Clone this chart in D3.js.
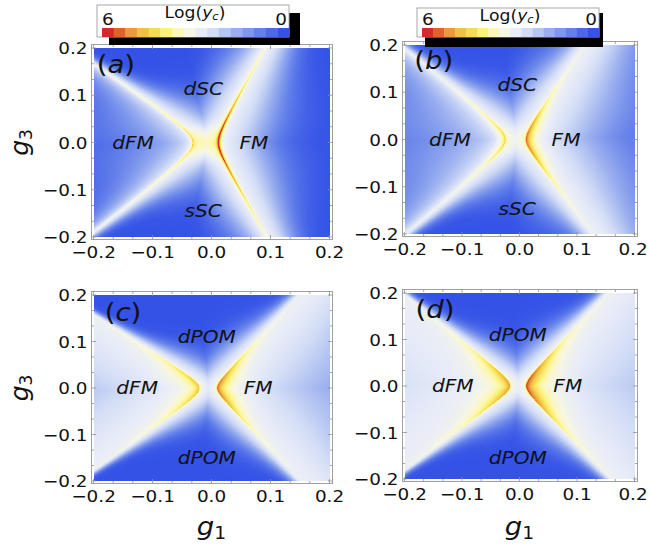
<!DOCTYPE html>
<html>
<head>
<meta charset="utf-8">
<script src="https://cdn.jsdelivr.net/npm/d3@7"></script>
<style>
body { margin: 0; background: #fff; }
svg { display: block; }
text { font-family: "DejaVu Sans", sans-serif; fill: #111; }
</style>
</head>
<body>
<svg id="chart" width="649" height="547"></svg>
<script>
// panels and labels
var panelTags = ["a", "b", "c", "d"];
var topPhase = ["dSC", "dSC", "dPOM", "dPOM"];
var bottomPhase = ["sSC", "sSC", "dPOM", "dPOM"];
var tickValues = [-0.2, -0.1, 0.0, 0.1, 0.2];
var tickLabels = ["\u22120.2", "\u22120.1", "0.0", "0.1", "0.2"];

// colour bar, Log(y_c) from 6 down to 0
var barValues = [6, 5.6, 5.2, 4.8, 4.4, 4.0, 3.6, 3.2, 2.8, 2.4, 2.0, 1.6, 1.2, 0.8, 0.4, 0];
var barColors = ["#d42a2a", "#e06030", "#e89a3c", "#f0c045", "#f6dc55", "#fbf27a", "#fcf7b8", "#f6f6e4",
                 "#e8ecf8", "#d2dcf6", "#b6c6f2", "#9aaeef", "#7e98ec", "#6480ea", "#4c6ae8", "#3452e6"];

// phase boundaries (hyperbola branches: vertex on g3=0, slope of the arms)
var leftVertex = [-0.032, -0.025, -0.021, -0.017];
var leftSlopeUp = [1.2, 1.04, 1.27, 1.02];
var leftSlopeDown = [1.05, 0.99, 1.13, 1.11];
var rightVertex = [0.012, 0.012, 0.010, 0.012];
var rightSlopeUp = [0.456, 0.567, 0.748, 0.77];
var rightSlopeDown = [0.471, 0.637, 0.76, 0.8];

// Log(y_c) levels
var edgeLevel = [2.85, 2.85, 2.85, 2.85];       // just beside a boundary
var dfmFar = [0.0, 0.3, 1.2, 2.0];              // deep in dFM
var dfmWidth = [0.07, 0.09, 0.16, 0.2];
var dfmPow = [1, 1, 2, 2];
var dfmNarrow = [0.1, 0.12, 0.3, 0.3];
var fmFar = [0.0, 0.4, 1.0, 1.5];               // deep in FM
var fmWidth = [0.085, 0.12, 0.15, 0.17];
var fmNarrow = [0.2, 0.25, 0.3, 0.3];
var midFar = [0.0, 0.0, 0.0, 0.0];              // deep in SC / POM
var midWidth = [0.055, 0.055, 0.041, 0.043];
var centreBoost = [1.0, 0.45, 0.2, 0.3];
var leftPeak = [4.3, 4.5, 4.8, 5.2];
var leftReach = [0.1, 0.07, 0.07, 0.075];
var leftOut = [0.0025, 0.008, 0.014, 0.018];
var rightPeak = [6.6, 5.6, 5.6, 5.9];
var rightReach = [0.12, 0.08, 0.07, 0.08];
var rightOut = [0.003, 0.011, 0.015, 0.02];
var ridgeIn = [0.0025, 0.002, 0.0015, 0.0015];

// pixel positions of g = -0.2 and 0.2 in each panel
var spanX = [[93.5, 329.5], [404.5, 634.5], [93.5, 329.5], [404.5, 634.5]];
var spanY = [[237, 48], [234, 45], [481, 295], [479, 293]];
// phase-name places in (g1, g3)
var tagAt = [[-0.162, 0.164], [-0.149, 0.166], [-0.15, 0.161], [-0.147, 0.163]];
var topAt = [[-0.014, 0.113], [-0.004, 0.115], [-0.008, 0.11], [-0.003, 0.11]];
var bottomAt = [[-0.014, -0.145], [-0.004, -0.147], [-0.008, -0.15], [-0.003, -0.155]];
var dfmAt = [[-0.133, 0.0], [-0.121, 0.0], [-0.126, 0.0], [-0.116, 0.0]];
var fmAt = [[0.072, 0.0], [0.081, 0.0], [0.079, 0.0], [0.084, 0.0]];

var svg = d3.select("#chart");
var color = d3.scaleLinear().domain(barValues).range(barColors).clamp(true);
var stretch = 1.15;

function label(parent, x, y, anchor, size, style) {
    var g = parent.append("g").attr("transform", "translate(" + x + "," + y + ") scale(" + stretch + ",1)");
    var t = g.append("text").attr("text-anchor", anchor).style("font-size", size + "px");
    if (style) t.style("font-style", style);
    return t;
}

// boundary branch: g1 = side * sqrt(v^2 + (s g3)^2)
function makeBranch(side, v, sUp, sDown) {
    var xAt = function (t) { var s = t >= 0 ? sUp : sDown; return side * Math.sqrt(v * v + s * s * t * t); };
    var ts = d3.range(-0.45, 0.4501, 0.0125);
    return { side: side, xAt: xAt, ts: ts, xs: ts.map(xAt) };
}

// signed distance to a branch, positive on the outer side
function branchDist(b, g1, g3) {
    var best = 1e9, bt = 0;
    for (var i = 0; i < b.ts.length; i++) {
        var dx = b.xs[i] - g1, dy = b.ts[i] - g3, q = dx * dx + dy * dy;
        if (q < best) { best = q; bt = b.ts[i]; }
    }
    for (var t = bt - 0.0125; t <= bt + 0.0125; t += 0.001) {
        var ex = b.xAt(t) - g1, ey = t - g3, q2 = ex * ex + ey * ey;
        if (q2 < best) best = q2;
    }
    var d = Math.sqrt(best);
    return b.side * g1 > b.side * b.xAt(g3) ? d : -d;
}

function fade(d, w, pw) { return Math.exp(-Math.pow(Math.max(d, 0) / w, pw)); }
function along(g3, r) { return Math.max(0, (1 / (1 + (g3 / r) * (g3 / r)) - 0.08) / 0.92); }

function level(p, L, R, g1, g3) {
    var dl = branchDist(L, g1, g3);
    var dr = branchDist(R, g1, g3);
    var e = edgeLevel[p], v;
    if (dl > 0) {
        var wl = dfmWidth[p] / (1 + Math.pow(g3 / dfmNarrow[p], 2));
        v = dfmFar[p] + (e - dfmFar[p]) * fade(dl, wl, dfmPow[p]);
    } else if (dr > 0) {
        var wr = fmWidth[p] / (1 + Math.pow(g3 / fmNarrow[p], 2));
        v = fmFar[p] + (e - fmFar[p]) * fade(dr, wr, 2);
    } else {
        var wm = midWidth[p] / (1 + Math.pow(g1 / 0.1, 2));
        v = midFar[p] + (e - midFar[p]) * fade(Math.min(-dl, -dr), wm, 2);
        var c1 = (leftVertex[p] + rightVertex[p]) / 2;
        v += centreBoost[p] * Math.exp(-((g1 - c1) * (g1 - c1) + g3 * g3) / 0.0012);
    }
    // bright ridge along each boundary, strongest at the vertex, spread on the outer side
    var al = along(g3, leftReach[p]);
    var ar = along(g3, rightReach[p]);
    var sl = dl > 0 ? leftOut[p] * (0.25 + 0.75 * al) : ridgeIn[p];
    var sr = dr > 0 ? rightOut[p] * (0.25 + 0.75 * ar) : ridgeIn[p];
    v += (leftPeak[p] - e) * al * Math.exp(-Math.abs(dl) / sl);
    v += (rightPeak[p] - e) * ar * Math.exp(-Math.abs(dr) / sr);
    return v;
}

panelTags.forEach(function (tag, p) {
    var x = d3.scaleLinear().domain([-0.2, 0.2]).range(spanX[p]);
    var y = d3.scaleLinear().domain([-0.2, 0.2]).range(spanY[p]);
    var x0 = Math.round(spanX[p][0]), y0 = Math.round(spanY[p][1]);
    var w = Math.round(spanX[p][1]) - x0, h = Math.round(spanY[p][0]) - y0;
    var L = makeBranch(-1, Math.abs(leftVertex[p]), leftSlopeUp[p], leftSlopeDown[p]);
    var R = makeBranch(1, rightVertex[p], rightSlopeUp[p], rightSlopeDown[p]);
    var g = svg.append("g");

    // density map
    var canvas = d3.create("canvas").attr("width", w).attr("height", h).node();
    var ctx = canvas.getContext("2d");
    var img = ctx.createImageData(w, h);
    for (var j = 0; j < h; j++) {
        var g3 = y.invert(y0 + j + 0.5);
        for (var i = 0; i < w; i++) {
            var c = d3.rgb(color(level(p, L, R, x.invert(x0 + i + 0.5), g3)));
            var k = 4 * (j * w + i);
            img.data[k] = c.r; img.data[k + 1] = c.g; img.data[k + 2] = c.b; img.data[k + 3] = 255;
        }
    }
    ctx.putImageData(img, 0, 0);
    g.append("image").attr("x", x0).attr("y", y0).attr("width", w).attr("height", h)
        .attr("href", canvas.toDataURL());

    // frame, a little outside the plot range, ticks on all sides
    var fx0 = x0 - 2.5, fx1 = x0 + w + 2.5, fy0 = y0 - 3.5, fy1 = y0 + h + 2.5;
    g.append("rect").attr("x", fx0).attr("y", fy0).attr("width", fx1 - fx0).attr("height", fy1 - fy0)
        .attr("fill", "none").attr("stroke", "#a0a0a0").attr("stroke-width", 1);
    var ticks = d3.range(-6, 7).map(function (n) { return n / 30; });
    var tk = g.append("g").attr("stroke", "#909090").attr("stroke-width", 0.8);
    ticks.forEach(function (t, n) {
        var len = (n % 3 === 0) ? 4.5 : 2.5;
        tk.append("line").attr("x1", x(t)).attr("x2", x(t)).attr("y1", fy1).attr("y2", fy1 - len);
        tk.append("line").attr("x1", x(t)).attr("x2", x(t)).attr("y1", fy0).attr("y2", fy0 + len);
        tk.append("line").attr("y1", y(t)).attr("y2", y(t)).attr("x1", fx0).attr("x2", fx0 + len);
        tk.append("line").attr("y1", y(t)).attr("y2", y(t)).attr("x1", fx1).attr("x2", fx1 - len);
    });

    // tick labels
    tickValues.forEach(function (t, i) {
        label(g, Math.min(x(t), 633), fy1 + 18.5, "middle", 16).text(tickLabels[i]);
        label(g, fx0 - 4, y(t) + 6, "end", 16).text(tickLabels[i]);
    });

    // phase names and panel tag
    label(g, x(tagAt[p][0]), y(tagAt[p][1]) + 8, "middle", 24).html("(<tspan font-style='italic'>" + tag + "</tspan>)");
    label(g, x(topAt[p][0]), y(topAt[p][1]) + 6, "middle", 17.5, "italic").text(topPhase[p]);
    label(g, x(bottomAt[p][0]), y(bottomAt[p][1]) + 6, "middle", 17.5, "italic").text(bottomPhase[p]);
    label(g, x(dfmAt[p][0]), y(dfmAt[p][1]) + 6, "middle", 17.5, "italic").text("dFM");
    label(g, x(fmAt[p][0]), y(fmAt[p][1]) + 6, "middle", 17.5, "italic").text("FM");
});

// axis titles
[0, 2].forEach(function (p) {
    var cy = (spanY[p][0] + spanY[p][1]) / 2;
    svg.append("text").attr("transform", "translate(28," + cy + ") rotate(-90)")
        .attr("text-anchor", "middle").style("font-size", "25px")
        .html("<tspan font-style='italic'>g</tspan><tspan font-size='17px' dy='4'>3</tspan>");
});
[2, 3].forEach(function (p) {
    var cx = (spanX[p][0] + spanX[p][1]) / 2;
    svg.append("text").attr("transform", "translate(" + cx + ",535) scale(1.1,1)")
        .attr("text-anchor", "middle").style("font-size", "25px")
        .html("<tspan font-style='italic'>g</tspan><tspan font-size='17px' dy='4'>1</tspan>");
});

// colour bar legends (white box with black drop shadow)
var legendBox = [[97, 5, 289, 37], [417, 8, 599, 37]];
var legendShadow = [[109, 13, 300, 45], [425, 13, 603, 47]];
legendBox.forEach(function (b, q) {
    var s = legendShadow[q];
    var lg = svg.append("g");
    lg.append("rect").attr("x", s[0]).attr("y", s[1]).attr("width", s[2] - s[0]).attr("height", s[3] - s[1]).attr("fill", "#000");
    lg.append("rect").attr("x", b[0]).attr("y", b[1]).attr("width", b[2] - b[0]).attr("height", b[3] - b[1])
        .attr("fill", "#fff").attr("stroke", "#a8a8a8").attr("stroke-width", 1);
    var bx = d3.scaleBand().domain(d3.range(barColors.length)).range([b[0] + 5, b[2]]);
    lg.selectAll("rect.sw").data(barColors).enter().append("rect").attr("class", "sw")
        .attr("x", function (d, i) { return bx(i); }).attr("y", b[3] - 9)
        .attr("width", bx.bandwidth() + 0.3).attr("height", 9).attr("fill", function (d) { return d; });
    label(lg, b[0] + 5, b[3] - 12, "start", 16).text(barValues[0]);
    label(lg, b[2] - 2, b[3] - 12, "end", 16).text(barValues[barValues.length - 1]);
    label(lg, (b[0] + b[2]) / 2 + 2, b[1] + 13, "middle", 15)
        .html("Log(<tspan font-style='italic'>y</tspan><tspan font-style='italic' font-size='10px' dy='2'>c</tspan><tspan dy='-2'>)</tspan>");
});
</script>
</body>
</html>
